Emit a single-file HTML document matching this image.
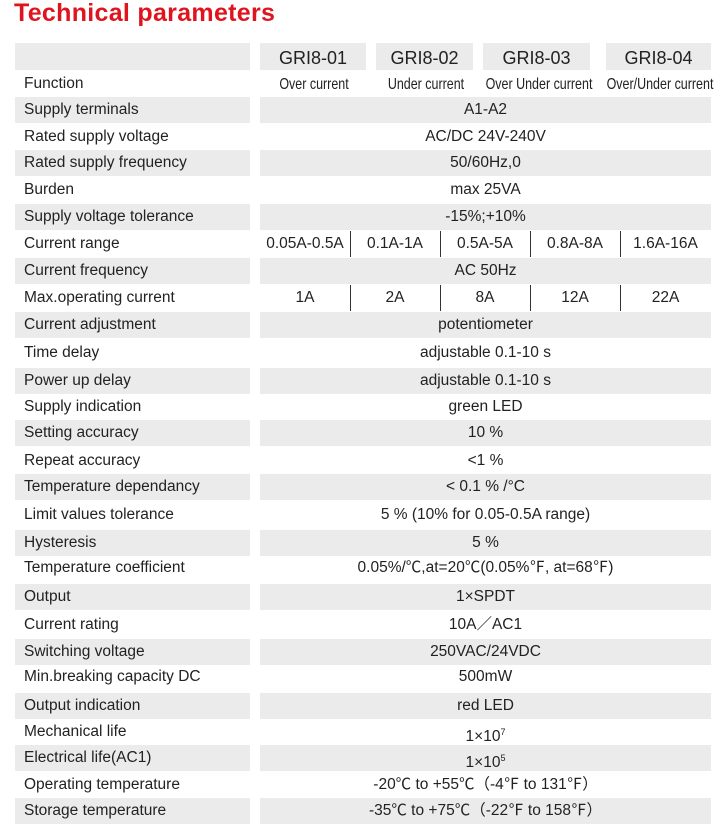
<!DOCTYPE html>
<html><head><meta charset="utf-8"><style>
body{margin:0;width:719px;height:828px;background:#fff;position:relative;overflow:hidden;font-family:"Liberation Sans","Noto Sans CJK SC",sans-serif;color:#222}
.a{position:absolute}
.t{position:absolute;left:14px;top:-1px;font-size:25px;font-weight:bold;color:#e0141e;letter-spacing:0.3px}
.g{position:absolute;background:#ebebeb}
.lbl{position:absolute;left:24px;font-size:15.5px;line-height:26px;height:26px;white-space:nowrap}
.val{position:absolute;font-size:15.5px;line-height:26px;height:26px;text-align:center;white-space:nowrap}
.hd{position:absolute;top:43px;height:27px;background:#ebebeb;font-size:18px;line-height:30px;text-align:center}
.fn{position:absolute;top:72px;font-size:16px;line-height:26px;text-align:center;white-space:nowrap;transform:scaleX(0.78)}
.dv{position:absolute;width:1px;background:#333}
sup{font-size:9px}
</style></head><body>
<div class="t">Technical parameters</div>
<div class="g" style="left:15px;top:43px;width:235px;height:27px"></div>
<div class="hd" style="left:260px;width:106px">GRI8-01</div>
<div class="hd" style="left:376px;width:97px">GRI8-02</div>
<div class="hd" style="left:483px;width:107px">GRI8-03</div>
<div class="hd" style="left:606px;width:105px">GRI8-04</div>
<div class="lbl" style="top:71px">Function</div>
<div class="fn" style="left:244px;width:140px">Over current</div>
<div class="fn" style="left:356px;width:140px">Under current</div>
<div class="fn" style="left:464px;width:150px">Over Under current</div>
<div class="fn" style="left:585px;width:150px">Over/Under current</div>
<div id="rows"></div>
<script>
const labels=["Supply terminals","Rated supply voltage","Rated supply frequency","Burden","Supply voltage tolerance","Current range","Current frequency","Max.operating current","Current adjustment","Time delay","Power up delay","Supply indication","Setting accuracy","Repeat accuracy","Temperature dependancy","Limit values tolerance","Hysteresis","Temperature coefficient","Output","Current rating","Switching voltage","Min.breaking capacity DC","Output indication","Mechanical life","Electrical life(AC1)","Operating temperature","Storage temperature"];
const values=["A1-A2","AC/DC 24V-240V","50/60Hz,0","max 25VA","-15%;+10%",null,"AC 50Hz",null,"potentiometer","adjustable 0.1-10 s","adjustable 0.1-10 s","green LED","10 %","<1 %","< 0.1 % /°C","5 % (10% for 0.05-0.5A range)","5 %","0.05%/℃,at=20℃(0.05%℉,  at=68℉)","1×SPDT","10A／AC1","250VAC/24VDC","500mW","red LED","1×10<sup>7</sup>","1×10<sup>5</sup>","-20℃ to +55℃（-4℉ to 131℉）","-35℃ to +75℃（-22℉ to 158℉）"];
const ranges=["0.05A-0.5A","0.1A-1A","0.5A-5A","0.8A-8A","1.6A-16A"];
const maxcur=["1A","2A","8A","12A","22A"];
const ys=[110,137,163,190,217,244,271,298,325,353,381,407,433,461,487,515,543,568,597,625,652,677,706,732,758,785,811];
const root=document.body;
labels.forEach((l,i)=>{
  const c=ys[i];
  if(i%2===0){
    const g1=document.createElement('div');g1.className='g';
    
    
    g1.style.cssText=`left:15px;top:${c-13}px;width:235px;height:26px`;root.appendChild(g1);
    const g2=document.createElement('div');g2.className='g';
    
    
    g2.style.cssText=`left:260px;top:${c-13}px;width:451px;height:26px`;root.appendChild(g2);
  }
  const d=document.createElement('div');d.className='lbl';d.textContent=l;
  
  
  d.style.top=(c-13)+'px';root.appendChild(d);
  const v=values[i];
  if(v!==null){
    const e=document.createElement('div');e.className='val';e.innerHTML=v;
    
    
    e.style.cssText=`left:260px;width:451px;top:${c-13}px`;root.appendChild(e);
  } else {
    const arr=(i===5)?ranges:maxcur;
    const edges=[260,350,440,530,620,711];
    arr.forEach((t,k)=>{
      const e=document.createElement('div');e.className='val';e.textContent=t;
      
      
      e.style.cssText=`left:${edges[k]}px;width:${edges[k+1]-edges[k]}px;top:${c-13}px`;root.appendChild(e);
      if(k>0){const dv=document.createElement('div');dv.className='dv';
        
        
        dv.style.cssText=`left:${edges[k]}px;top:${c-13}px;height:26px`;root.appendChild(dv);}
    });
  }
});
</script>
</body></html>
